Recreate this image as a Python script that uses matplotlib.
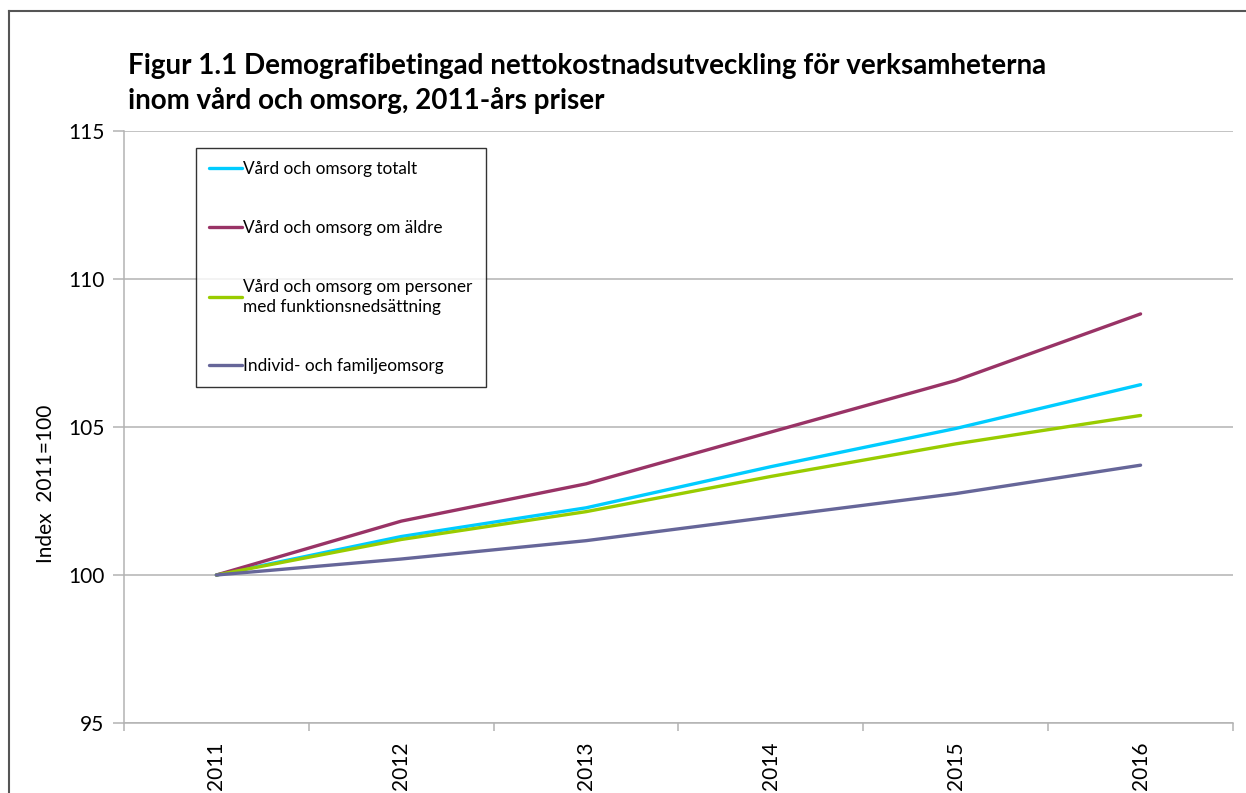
import matplotlib.pyplot as plt
from matplotlib.lines import Line2D

plt.rcParams['font.family'] = ['Lato', 'DejaVu Sans']

years = ['2011', '2012', '2013', '2014', '2015', '2016']
totalt = [100, 101.30, 102.27, 103.66, 104.95, 106.43]
aldre = [100, 101.82, 103.08, 104.83, 106.57, 108.82]
funktion = [100, 101.20, 102.14, 103.33, 104.43, 105.39]
ifo = [100, 100.54, 101.16, 101.96, 102.75, 103.71]

labels = ['Vård och omsorg totalt',
          'Vård och omsorg om äldre',
          'Vård och omsorg om personer\nmed funktionsnedsättning',
          'Individ- och familjeomsorg']
colors = ['#00CCFF', '#993366', '#99CC00', '#666699']

W, H = 1246, 793
fig = plt.figure(figsize=(W / 100, H / 100), dpi=100)
ax = fig.add_axes([124 / W, 1 - 723 / H, (1233 - 124) / W, (723 - 131) / H])

x = range(len(years))
for vals, lab, col in zip([totalt, aldre, funktion, ifo], labels, colors):
    ax.plot(x, vals, color=col, lw=2.4, label=lab, solid_capstyle='round')

ax.set_xlim(-0.5, len(years) - 0.5)
ax.set_ylim(95, 115)
ax.set_yticks([95, 100, 105, 110, 115])
ax.yaxis.grid(True, color='#b3b3b3', lw=1.1)
ax.set_axisbelow(True)

ax.set_xticks(list(x))
ax.set_xticklabels(years, rotation=90, fontsize=15)
ax.set_xticks([i - 0.5 for i in range(len(years) + 1)], minor=True)
ax.tick_params(axis='x', which='major', length=0, pad=13)
ax.tick_params(axis='x', which='minor', length=6, color='#b3b3b3', width=1.1)
ax.tick_params(axis='y', length=8, color='#b3b3b3', width=1.1, labelsize=15, pad=6)

for s in ['top', 'right']:
    ax.spines[s].set_visible(False)
for s in ['left', 'bottom']:
    ax.spines[s].set_color('#b3b3b3')
    ax.spines[s].set_linewidth(1.1)

leg = ax.legend(loc='upper left', bbox_to_anchor=((196 - 124) / (1233 - 124), (723 - 148) / (723 - 131)),
                frameon=True, fancybox=False, edgecolor='black', fontsize=12.4,
                handlelength=1.9, handletextpad=0.1, labelspacing=2.5,
                borderpad=0.75, borderaxespad=0)
leg.get_frame().set_linewidth(1.0)
for t in leg.get_texts():
    t.set_linespacing(1.3)

fig.text(128 / W, 1 - 53 / H,
         'Figur 1.1 Demografibetingad nettokostnadsutveckling för verksamheterna\ninom vård och omsorg, 2011-års priser',
         fontsize=20, fontweight='bold', va='top', ha='left', linespacing=1.35)

fig.text(46 / W, 1 - 484 / H, 'Index  2011=100', rotation=90, fontsize=15,
         va='center', ha='center')

# outer chart frame (top and left edges visible)
fig.add_artist(Line2D([9 / W, 1], [1 - 11 / H, 1 - 11 / H], transform=fig.transFigure, color='#555555', lw=1.5))
fig.add_artist(Line2D([9 / W, 9 / W], [0, 1 - 11 / H], transform=fig.transFigure, color='#555555', lw=1.5))

fig.savefig('out.png', dpi=100)
